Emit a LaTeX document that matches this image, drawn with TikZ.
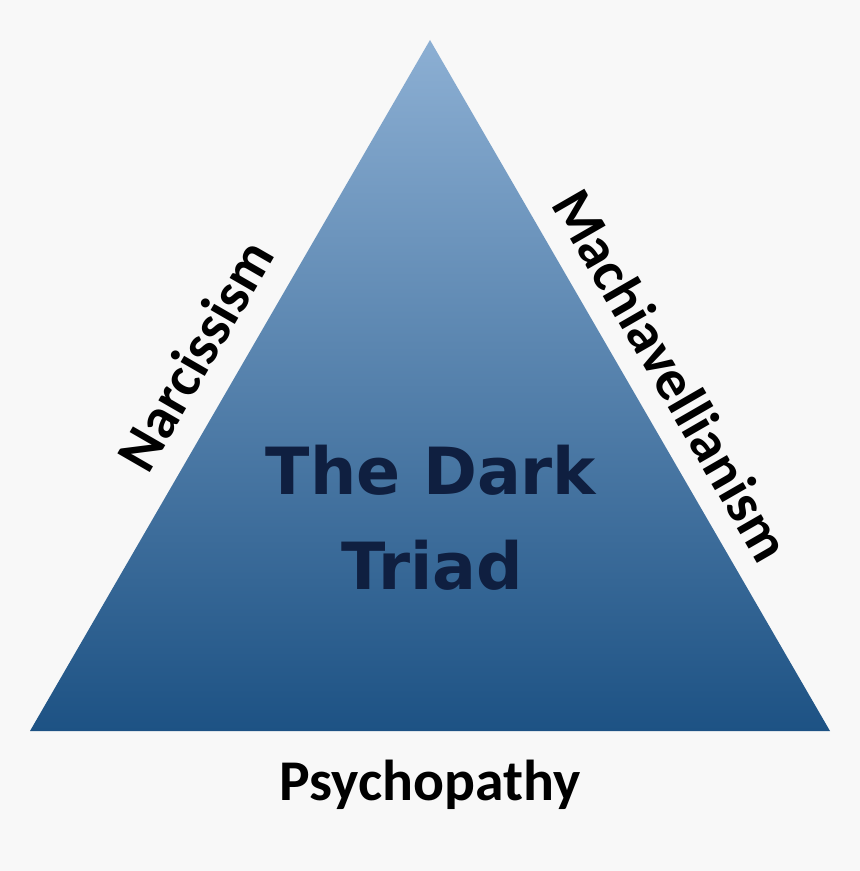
\documentclass[tikz,border=0pt]{standalone}
\usepackage{fontspec}
\setmainfont{Carlito}
\newfontfamily\heavyfont{DejaVu Sans}
\usepackage{xcolor}
\usepackage{tikz}
\usetikzlibrary{positioning}
\definecolor{bgcol}{HTML}{F8F8F8}
\definecolor{tritop}{HTML}{8CAFD3}
\definecolor{tribot}{HTML}{1D5284}
\definecolor{navy}{HTML}{0F1F40}

\begin{document}
\begin{tikzpicture}[
    trait/.style={font=\fontsize{16.4}{19}\selectfont\bfseries, text=black},
    title/.style={font=\heavyfont\fontsize{18.5}{22}\selectfont\bfseries, text=navy}]
  \fill[bgcol] (0,0) rectangle (8.6,8.71);
  \useasboundingbox (0,0) rectangle (8.6,8.71);
  \coordinate (apex) at (4.30,8.31);
  \coordinate (left) at (0.30,1.40);
  \coordinate (right) at (8.30,1.40);
  \shade[top color=tritop, bottom color=tribot] (apex) -- (right) -- (left) -- cycle;
  \node[title] (dark) at (4.31,4.01) {The Dark};
  \node[title] (triad) at (4.32,3.06) {Triad};
  \node[trait, rotate=60] (narc) at (1.95,5.16) {Narcissism};
  \node[trait, rotate=-60] (mach) at (6.72,4.96) {Machiavellianism};
  \node[trait] (psych) at (4.30,0.86) {Psychopathy};
\end{tikzpicture}
\end{document}
